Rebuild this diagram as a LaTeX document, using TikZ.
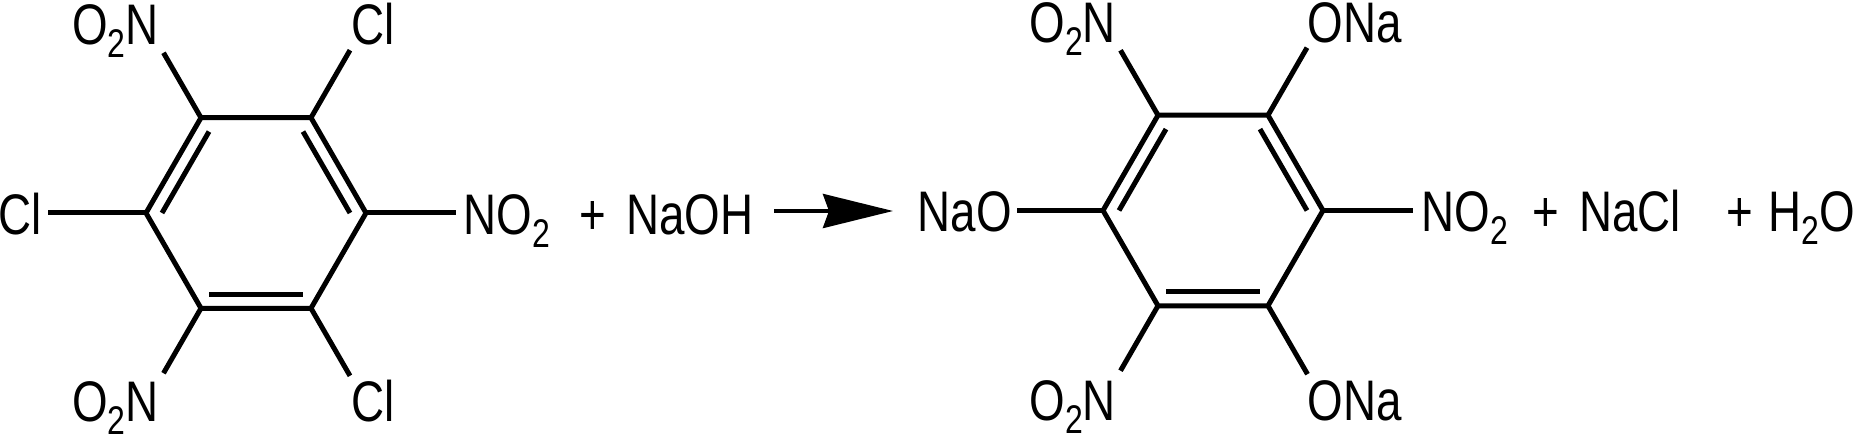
\documentclass[tikz,border=0pt]{standalone}
\usepackage{fontspec}
\setmainfont{Liberation Sans}[FakeStretch=0.8]
\usetikzlibrary{arrows.meta}
\tikzset{bond/.style = {line width=2.5pt}}
\tikzset{atom/.style = {inner sep=0, anchor=base west}}
\tikzset{react/.style = {line width=1.9pt, -{Stealth[length=35pt, width=17pt, inset=3pt]}}}
\newcommand{\low}[1]{\raisebox{-6.5pt}{\fontsize{20}{20}\selectfont #1}}

\begin{document}
\begin{tikzpicture}[x=0.5pt, y=0.5pt, font=\fontsize{28.6}{30}\selectfont]
    \useasboundingbox (0, 0) rectangle (1872, 439);

    % starting material
    \begin{scope}[shift={(256, 226)}]
      \foreach \i/\a in {1/0, 2/60, 3/120, 4/180, 5/240, 6/300}
        \coordinate (a\i) at (\a:110);
      \draw [bond] (a1) -- (a2) -- (a3) -- (a4) -- (a5) -- (a6) -- cycle;

      \draw [bond] (0:94) -- (60:94);
      \draw [bond] (120:94) -- (180:94);
      \draw [bond] (240:94) -- (300:94);
    \end{scope}

    \foreach \i/\a/\l in {1/0/90, 2/60/78, 3/120/75, 4/180/98, 5/240/75, 6/300/78}
      \path (a\i) ++(\a:\l) coordinate (a\i x);
    \foreach \i in {1,...,6}
      \draw [bond] (a\i) -- (a\i x);

    \node [atom] (no1) at (463, 204) {NO\low{2}};
    \node [atom] (cl1) at (351, 394) {Cl};
    \node [atom] (on1) at (72, 394) {O\low{2}N};
    \node [atom] (cl2) at (-2, 204) {Cl};
    \node [atom] (on2) at (72, 18) {O\low{2}N};
    \node [atom] (cl3) at (351, 18) {Cl};

    \node [atom] (plus1) at (579, 204) {+};
    \node [atom] (naoh) at (626, 204) {NaOH};

    \coordinate (arr1) at (774, 228);
    \coordinate (arr2) at (893, 228);
    \draw [react] (arr1) -- (arr2);

    % product
    \begin{scope}[shift={(1213, 228.5)}]
      \foreach \i/\a in {1/0, 2/60, 3/120, 4/180, 5/240, 6/300}
        \coordinate (b\i) at (\a:110);
      \draw [bond] (b1) -- (b2) -- (b3) -- (b4) -- (b5) -- (b6) -- cycle;

      \draw [bond] (0:94) -- (60:94);
      \draw [bond] (120:94) -- (180:94);
      \draw [bond] (240:94) -- (300:94);
    \end{scope}

    \foreach \i/\a/\l in {1/0/90, 2/60/78, 3/120/75, 4/180/86, 5/240/75, 6/300/79}
      \path (b\i) ++(\a:\l) coordinate (b\i x);
    \foreach \i in {1,...,6}
      \draw [bond] (b\i) -- (b\i x);

    \node [atom] (no2) at (1421, 207) {NO\low{2}};
    \node [atom] (ona1) at (1307, 396) {ONa};
    \node [atom] (on3) at (1029, 396) {O\low{2}N};
    \node [atom, anchor=base east] (nao) at (1012, 207) {NaO};
    \node [atom] (on4) at (1029, 19) {O\low{2}N};
    \node [atom] (ona2) at (1307, 19) {ONa};

    \node [atom] (plus2) at (1532, 207) {+};
    \node [atom] (nacl) at (1579, 207) {NaCl};
    \node [atom] (plus3) at (1726, 207) {+};
    \node [atom] (water) at (1768, 207) {H\low{2}O};
\end{tikzpicture}
\end{document}
